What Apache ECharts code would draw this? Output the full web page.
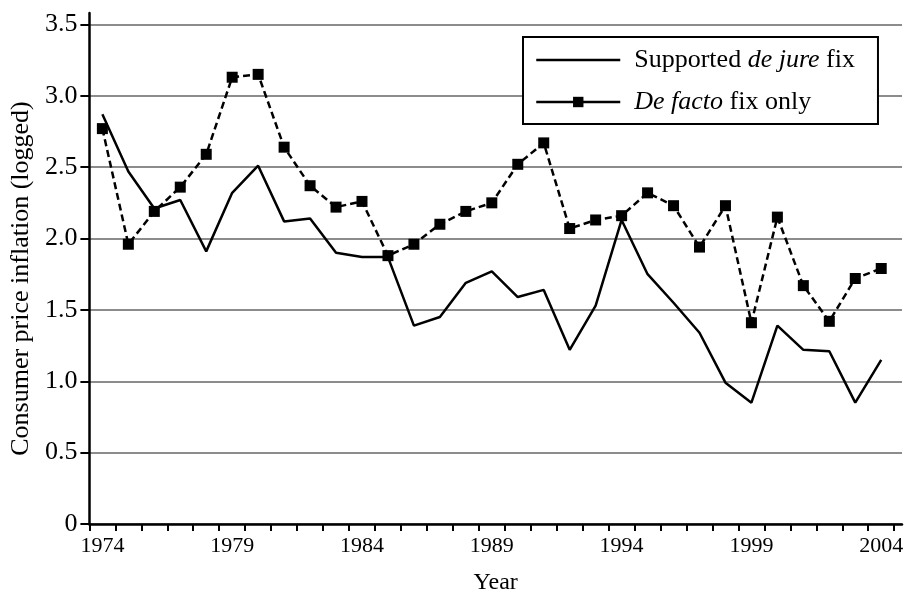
<!DOCTYPE html>
<html>
<head>
<meta charset="utf-8">
<title>Consumer price inflation</title>
<script src="https://cdn.jsdelivr.net/npm/echarts@6/dist/echarts.min.js"></script>
<style>
  html, body { margin: 0; padding: 0; background: #fff; }
  #chart { width: 909px; height: 601px; }
</style>
</head>
<body>
<div id="chart"></div>
<script>
// data
const years = [1974, 1975, 1976, 1977, 1978, 1979, 1980, 1981, 1982, 1983, 1984,
  1985, 1986, 1987, 1988, 1989, 1990, 1991, 1992, 1993, 1994, 1995, 1996, 1997,
  1998, 1999, 2000, 2001, 2002, 2003, 2004];
const deJure = [2.87, 2.47, 2.21, 2.27, 1.91, 2.32, 2.51, 2.12, 2.14, 1.90, 1.87,
  1.87, 1.39, 1.45, 1.69, 1.77, 1.59, 1.64, 1.22, 1.53, 2.13, 1.75, 1.55, 1.34,
  0.99, 0.85, 1.39, 1.22, 1.21, 0.85, 1.15];
const deFacto = [2.77, 1.96, 2.19, 2.36, 2.59, 3.13, 3.15, 2.64, 2.37, 2.22, 2.26,
  1.88, 1.96, 2.10, 2.19, 2.25, 2.52, 2.67, 2.07, 2.13, 2.16, 2.32, 2.23, 1.94,
  2.23, 1.41, 2.15, 1.67, 1.42, 1.72, 1.79];
const yearLabels = [1974, 1979, 1984, 1989, 1994, 1999, 2004];
const yTicks = [0, 0.5, 1.0, 1.5, 2.0, 2.5, 3.0, 3.5];
const seriesNames = ['Supported de jure fix', 'De facto fix only'];

const FONT = '"Liberation Serif", "DejaVu Serif", serif';

// tick marks sit between the years
const yearTicks = years.map(y => y - 0.5).concat([years[years.length - 1] + 0.5]);

const chart = echarts.init(document.getElementById('chart'), null, { renderer: 'canvas' });

const option = {
  backgroundColor: '#fff',
  animation: false,
  grid: {
    left: 87,
    right: 7,
    top: 13,
    bottom: 77
  },
  legend: {
    orient: 'vertical',
    left: 523,
    top: 37,
    // plain line for the first entry, line + square for the second
    data: [
      { name: seriesNames[0], icon: 'path://M0,0H84V2.5H0Z' },
      { name: seriesNames[1] }
    ],
    backgroundColor: '#fff',
    borderColor: '#000',
    borderWidth: 2,
    borderRadius: 0,
    padding: [10, 23, 9, 12],
    itemGap: 16,
    itemWidth: 84,
    itemHeight: 13,
    lineStyle: { type: 'solid', width: 2.5 },
    formatter: function (name) {
      if (name === seriesNames[0]) return '{n|Supported }{i|de jure}{n| fix}';
      return '{i|De facto}{n| fix only}';
    },
    textStyle: {
      padding: [0, 0, 0, 9],
      rich: {
        n: { fontFamily: FONT, fontSize: 26, color: '#000', lineHeight: 28 },
        i: { fontFamily: FONT, fontSize: 26, color: '#000', fontStyle: 'italic', lineHeight: 28 }
      }
    }
  },
  xAxis: {
    type: 'value',
    min: 1973.5,
    max: 2004.8,
    name: 'Year',
    nameLocation: 'middle',
    nameGap: 47,
    nameTextStyle: { fontFamily: FONT, fontSize: 24, color: '#000' },
    axisLine: { lineStyle: { color: '#000', width: 2.5 } },
    axisTick: {
      show: true,
      length: 7,
      customValues: yearTicks,
      lineStyle: { color: '#000', width: 2 }
    },
    axisLabel: {
      customValues: yearLabels,
      margin: 11,
      fontFamily: FONT,
      fontSize: 22,
      color: '#000',
      formatter: v => String(v)
    },
    splitLine: { show: false }
  },
  yAxis: {
    type: 'value',
    min: 0,
    max: 3.58,
    name: 'Consumer price inflation (logged)',
    nameLocation: 'middle',
    nameGap: 54,
    nameTextStyle: {
      fontFamily: FONT,
      fontSize: 26,
      color: '#000',
      padding: [0, 20, 0, 0]
    },
    axisLine: { show: true, lineStyle: { color: '#000', width: 2.5 } },
    axisTick: {
      show: true,
      length: 9,
      customValues: yTicks,
      lineStyle: { color: '#000', width: 2 }
    },
    axisLabel: {
      customValues: yTicks,
      margin: 12,
      fontFamily: FONT,
      fontSize: 26,
      color: '#000',
      formatter: v => (v === 0 ? '0' : v.toFixed(1))
    },
    splitLine: {
      show: true,
      lineStyle: { color: '#8c8c8c', width: 2 }
    }
  },
  series: [
    {
      name: seriesNames[0],
      type: 'line',
      data: years.map((y, i) => [y, deJure[i]]),
      symbol: 'none',
      itemStyle: { color: '#000' },
      lineStyle: { color: '#000', width: 2.5 },
      z: 3
    },
    {
      name: seriesNames[1],
      type: 'line',
      data: years.map((y, i) => [y, deFacto[i]]),
      symbol: 'rect',
      symbolSize: 11,
      itemStyle: { color: '#000' },
      lineStyle: { color: '#000', width: 2.5, type: [7, 4] },
      z: 4
    }
  ]
};

chart.setOption(option);
</script>
</body>
</html>
